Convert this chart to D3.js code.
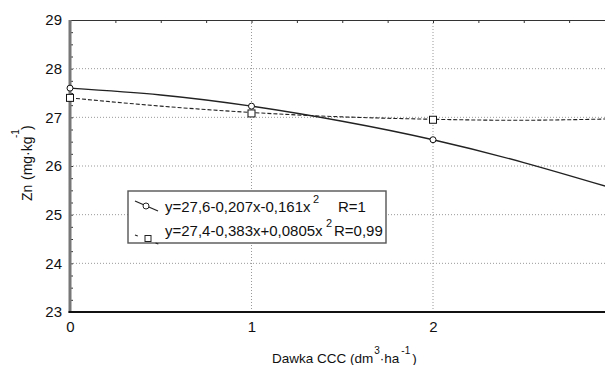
<!DOCTYPE html>
<html>
<head>
<meta charset="utf-8">
<script src="https://cdn.jsdelivr.net/npm/d3@7"></script>
<style>
  body { margin: 0; background: #fff; }
  text { font-family: "Liberation Sans", Arial, sans-serif; fill: #111; }
</style>
</head>
<body>
<div id="chart"></div>
<script>
// Measured points (dose of CCC vs Zn content)
var doses = [0, 1, 2];
var znCircle = [27.6, 27.23, 26.54];
var znSquare = [27.4, 27.08, 26.95];

// Fitted curves
var curveX = [0, 0.5, 1, 1.5, 2, 2.5, 3];
var curveCircle = [27.6, 27.46, 27.23, 26.92, 26.54, 26.07, 25.53];
var curveSquare = [27.4, 27.23, 27.10, 27.01, 26.96, 26.94, 26.97];

var xTicks = [0, 1, 2];
var yTicks = [23, 24, 25, 26, 27, 28, 29];

var legendMain = ["y=27,6-0,207x-0,161x", "y=27,4-0,383x+0,0805x"];
var legendR = ["R=1", "R=0,99"];

function drawChart() {
    var svgWidth = 605;
    var svgHeight = 365;

    var svg = d3.select("#chart")
        .append("svg")
        .attr("width", svgWidth)
        .attr("height", svgHeight);

    // Scales (x domain runs past the picture edge, plot is cut at the right)
    var x = d3.scaleLinear().domain([0, 3]).range([70, 614.5]);
    var y = d3.scaleLinear().domain([23, 29]).range([312, 20]);

    // Grid lines
    var grid = svg.append("g");
    grid.selectAll(".hgrid")
        .data(yTicks.slice(1, -1))
        .enter().append("line")
        .attr("x1", x(0)).attr("x2", svgWidth)
        .attr("y1", d => y(d)).attr("y2", d => y(d))
        .attr("stroke", "#999").attr("stroke-width", 1)
        .attr("stroke-dasharray", "1,2");
    grid.selectAll(".vgrid")
        .data(xTicks.slice(1))
        .enter().append("line")
        .attr("x1", d => x(d)).attr("x2", d => x(d))
        .attr("y1", y(29)).attr("y2", y(23))
        .attr("stroke", "#999").attr("stroke-width", 1)
        .attr("stroke-dasharray", "1,2");

    // Top frame line with minor ticks
    var topAxis = d3.axisBottom(x)
        .tickValues(d3.range(0, 3.01, 0.25))
        .tickSize(3)
        .tickFormat("");
    var gTop = svg.append("g")
        .attr("transform", "translate(0," + y(29) + ")")
        .call(topAxis);
    gTop.select(".domain").attr("stroke", "#333").attr("stroke-width", 1.2);
    gTop.selectAll(".tick line").attr("stroke", "#333");

    // Left axis minor ticks (inside)
    var leftMinor = d3.axisRight(y)
        .tickValues(d3.range(23, 29.01, 0.25))
        .tickSize(3)
        .tickFormat("");
    var gLeftMinor = svg.append("g")
        .attr("transform", "translate(" + x(0) + ",0)")
        .call(leftMinor);
    gLeftMinor.select(".domain").remove();
    gLeftMinor.selectAll(".tick line").attr("stroke", "#333");

    // Left axis labels
    var leftAxis = d3.axisLeft(y).tickValues(yTicks).tickSize(0).tickPadding(8)
        .tickFormat(d3.format("d"));
    var gLeft = svg.append("g")
        .attr("transform", "translate(" + x(0) + ",0)")
        .call(leftAxis);
    gLeft.select(".domain").remove();
    gLeft.selectAll("text")
        .style("font-family", "Liberation Sans, Arial, sans-serif")
        .style("font-size", "15px").attr("fill", "#111");

    svg.append("line")
        .attr("x1", x(0)).attr("x2", x(0))
        .attr("y1", y(29)).attr("y2", y(23) + 1)
        .attr("stroke", "#777").attr("stroke-width", 3);

    // Bottom axis
    var bottomAxis = d3.axisBottom(x).tickValues(xTicks).tickSize(0).tickPadding(9)
        .tickFormat(d3.format("d"));
    var gBottom = svg.append("g")
        .attr("transform", "translate(0," + y(23) + ")")
        .call(bottomAxis);
    gBottom.select(".domain").remove();
    gBottom.selectAll("text")
        .style("font-family", "Liberation Sans, Arial, sans-serif")
        .style("font-size", "15px").attr("fill", "#111");
    svg.append("line")
        .attr("x1", x(0) - 1.5).attr("x2", svgWidth)
        .attr("y1", y(23)).attr("y2", y(23))
        .attr("stroke", "#111").attr("stroke-width", 2);

    // Curves
    var solidData = curveX.map((d, i) => [d, curveCircle[i]]);
    var dashData = curveX.map((d, i) => [d, curveSquare[i]]);
    var line = d3.line()
        .x(d => x(d[0]))
        .y(d => y(d[1]))
        .curve(d3.curveNatural);

    svg.append("path")
        .attr("d", line(dashData))
        .attr("fill", "none").attr("stroke", "#222")
        .attr("stroke-width", 1.1)
        .attr("stroke-dasharray", "4,2");
    svg.append("path")
        .attr("d", line(solidData))
        .attr("fill", "none").attr("stroke", "#222")
        .attr("stroke-width", 1.4);

    // Markers
    svg.selectAll(".sq")
        .data(doses)
        .enter().append("rect")
        .attr("x", d => x(d) - 3.5)
        .attr("y", (d, i) => y(znSquare[i]) - 3.5)
        .attr("width", 7).attr("height", 7)
        .attr("fill", "#fff").attr("stroke", "#111").attr("stroke-width", 1);
    svg.selectAll(".ci")
        .data(doses)
        .enter().append("circle")
        .attr("cx", d => x(d))
        .attr("cy", (d, i) => y(znCircle[i]))
        .attr("r", 3)
        .attr("fill", "#fff").attr("stroke", "#111").attr("stroke-width", 1);

    // Legend
    var lg = svg.append("g");
    lg.append("rect")
        .attr("x", 128).attr("y", 191)
        .attr("width", 258).attr("height", 52)
        .attr("fill", "#fff").attr("stroke", "#555").attr("stroke-width", 1.4);

    // legend symbols
    lg.append("line")
        .attr("x1", 135).attr("y1", 201).attr("x2", 158).attr("y2", 211)
        .attr("stroke", "#222").attr("stroke-width", 1.2);
    lg.append("circle")
        .attr("cx", 146).attr("cy", 206).attr("r", 3)
        .attr("fill", "#fff").attr("stroke", "#222");
    lg.append("line")
        .attr("x1", 135).attr("y1", 235).attr("x2", 161).attr("y2", 245)
        .attr("stroke", "#222").attr("stroke-width", 1.1)
        .attr("stroke-dasharray", "3,8");
    lg.append("rect")
        .attr("x", 145).attr("y", 235.5).attr("width", 6).attr("height", 6)
        .attr("fill", "#fff").attr("stroke", "#222");

    var supX = [313, 326];
    var rX = [338, 334];
    var rowY = [212, 236];
    legendMain.forEach(function(t, i) {
        lg.append("text")
            .attr("x", 165).attr("y", rowY[i])
            .style("font-size", "15px").text(t);
        lg.append("text")
            .attr("x", supX[i]).attr("y", rowY[i] - 9)
            .style("font-size", "11px").text("2");
        lg.append("text")
            .attr("x", rX[i]).attr("y", rowY[i])
            .style("font-size", "15px").text(legendR[i]);
    });

    // Y axis title (rotated pieces)
    function vText(str, bx, by, size) {
        svg.append("text")
            .attr("transform", "translate(" + bx + "," + by + ") rotate(-90)")
            .style("font-size", size + "px")
            .text(str);
    }
    vText("Zn", 32, 201, 14);
    vText("(mg·kg", 32, 180, 14);
    vText("-1", 19, 138, 10);
    vText(")", 32, 130, 14);

    // X axis title, superscripts chained with dx/dy
    var xt = svg.append("text")
        .attr("x", 272).attr("y", 363)
        .style("font-size", "13.5px");
    xt.append("tspan").text("Dawka CCC (dm");
    xt.append("tspan").attr("dx", 1).attr("dy", -9)
        .style("font-size", "10px").text("3");
    xt.append("tspan").attr("dx", 0).attr("dy", 9).text("·ha");
    xt.append("tspan").attr("dx", 2).attr("dy", -9)
        .style("font-size", "10px").text("-1");
    xt.append("tspan").attr("dx", 2).attr("dy", 9).text(")");
}

drawChart();
</script>
</body>
</html>
